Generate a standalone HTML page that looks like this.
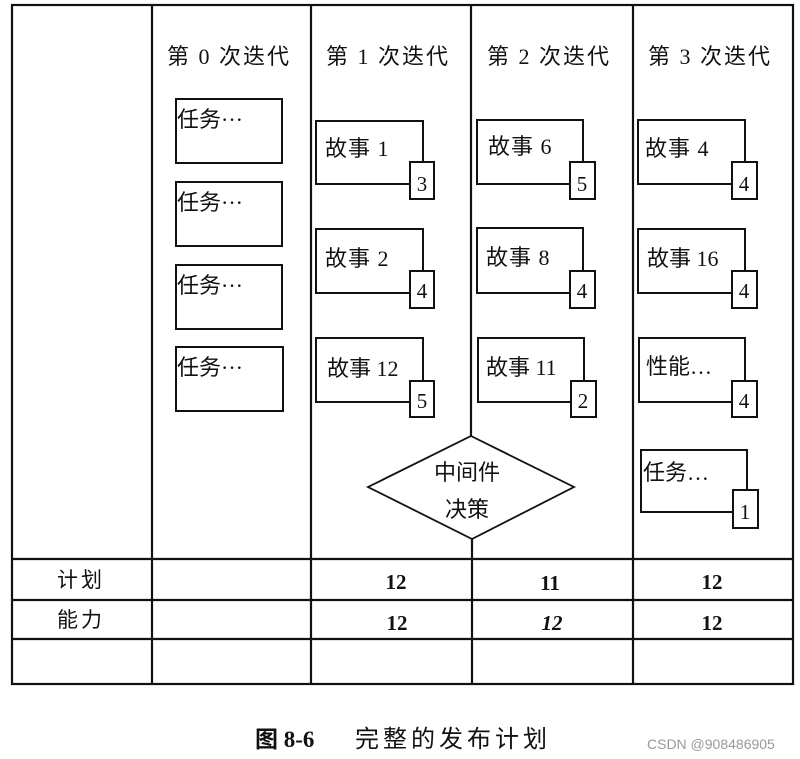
<!DOCTYPE html>
<html><head><meta charset="utf-8"><style>
html,body{margin:0;padding:0;background:#fff;width:800px;height:759px;overflow:hidden}
svg text{font-family:"Liberation Serif","Noto Sans CJK SC",serif;fill:#111}
</style></head><body>
<svg width="800" height="759" viewBox="0 0 800 759" xmlns="http://www.w3.org/2000/svg">
<g stroke="#111" stroke-width="2.2" fill="none">
<rect x="12" y="5" width="781" height="679"/>
<line x1="152" y1="5" x2="152" y2="684"/>
<line x1="311" y1="5" x2="311" y2="684"/>
<line x1="471" y1="5" x2="471" y2="436"/>
<line x1="472" y1="539" x2="472" y2="684"/>
<line x1="633" y1="5" x2="633" y2="684"/>
<line x1="12" y1="559" x2="793" y2="559"/>
<line x1="12" y1="600" x2="793" y2="600"/>
<line x1="12" y1="639" x2="793" y2="639"/>
<polygon points="471,436 574,487 472,539 368,487" stroke-width="1.8" fill="#fff"/>
</g>
<g stroke="#111" stroke-width="2" fill="#fff">
<rect x="176" y="99" width="106" height="64"/>
<rect x="176" y="182" width="106" height="64"/>
<rect x="176" y="265" width="106" height="64"/>
<rect x="176" y="347" width="107" height="64"/>
<rect x="316" y="121" width="107" height="63"/><rect x="410" y="162" width="24" height="37"/>
<rect x="316" y="229" width="107" height="64"/><rect x="410" y="271" width="24" height="37"/>
<rect x="316" y="338" width="107" height="64"/><rect x="410" y="381" width="24" height="36"/>
<rect x="477" y="120" width="106" height="64"/><rect x="570" y="162" width="25" height="37"/>
<rect x="477" y="228" width="106" height="65"/><rect x="570" y="271" width="25" height="37"/>
<rect x="478" y="338" width="106" height="64"/><rect x="571" y="381" width="25" height="36"/>
<rect x="638" y="120" width="107" height="64"/><rect x="732" y="162" width="25" height="37"/>
<rect x="638" y="229" width="107" height="64"/><rect x="732" y="271" width="25" height="37"/>
<rect x="639" y="338" width="106" height="64"/><rect x="732" y="381" width="25" height="36"/>
<rect x="641" y="450" width="106" height="62"/><rect x="733" y="490" width="25" height="38"/>
</g>
<g font-size="22">
<text x="167" y="64" letter-spacing="2">第 0 次迭代</text>
<text x="326" y="64" letter-spacing="2">第 1 次迭代</text>
<text x="487" y="64" letter-spacing="2">第 2 次迭代</text>
<text x="648" y="64" letter-spacing="2">第 3 次迭代</text>
<text x="177" y="127">任务···</text>
<text x="177" y="210">任务···</text>
<text x="177" y="293">任务···</text>
<text x="177" y="375">任务···</text>
<text x="325" y="156" letter-spacing="1">故事 1</text>
<text x="325" y="266" letter-spacing="1">故事 2</text>
<text x="327" y="376">故事 12</text>
<text x="488" y="154" letter-spacing="1">故事 6</text>
<text x="486" y="265" letter-spacing="1">故事 8</text>
<text x="486" y="375">故事 11</text>
<text x="645" y="156" letter-spacing="1">故事 4</text>
<text x="647" y="266">故事 16</text>
<text x="646" y="374">性能…</text>
<text x="643" y="480">任务…</text>
<text x="434" y="480">中间件</text>
<text x="445" y="517">决策</text>
</g>
<g font-size="21" text-anchor="middle">
<text x="422" y="191">3</text><text x="422" y="298">4</text><text x="422" y="408">5</text>
<text x="582" y="191">5</text><text x="582" y="298">4</text><text x="583" y="408">2</text>
<text x="744" y="191">4</text><text x="744" y="298">4</text><text x="744" y="408">4</text>
<text x="745" y="519">1</text>
</g>
<g font-size="21" text-anchor="middle" font-weight="bold">
<text x="81" y="587" font-weight="normal" letter-spacing="3">计划</text>
<text x="81" y="627" font-weight="normal" letter-spacing="3">能力</text>
<text x="396" y="589">12</text><text x="550" y="590">11</text><text x="712" y="589">12</text>
<text x="397" y="630">12</text><text x="552" y="630" font-style="italic">12</text><text x="712" y="630">12</text>
</g>
<text x="255" y="747" font-size="23" font-weight="bold">图 8-6</text>
<text x="355" y="747" font-size="24" letter-spacing="4">完整的发布计划</text>
<text x="647" y="749" font-size="14" style="font-family:'Liberation Sans',sans-serif;fill:#999">CSDN @908486905</text>
</svg>
</body></html>
